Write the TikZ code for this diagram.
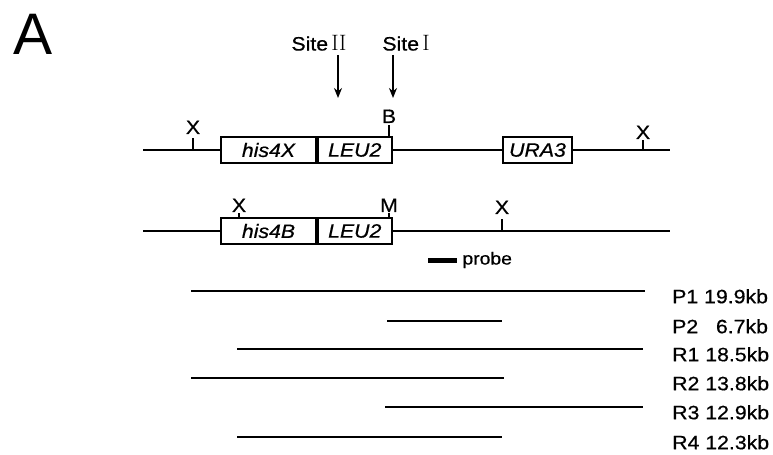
\documentclass[tikz,border=0pt]{standalone}
\usepackage{fontspec}
\newfontfamily\labfont[FakeStretch=1.1, FakeBold=0.6]{Liberation Sans}
\newfontfamily\panelfont{Liberation Sans}
\usetikzlibrary{positioning, arrows.meta, calc}

\begin{document}
\begin{tikzpicture}[
  gene/.style={draw, line width=1.5pt, minimum height=0.78cm, inner sep=0pt,
    font=\labfont\fontsize{16.5}{19}\selectfont\itshape},
  dna/.style={line width=1.5pt},
  lbl/.style={font=\labfont\fontsize{16.5}{19}\selectfont, inner sep=0pt},
  site/.style={line width=1.5pt, -{Stealth[length=3mm, width=2.4mm]}}
]
\useasboundingbox (0,0) rectangle (23.19,13.62);

% Panel letter
\node[font=\panelfont\fontsize{50}{60}\selectfont, inner sep=0pt] (panel) at (0.99,12.6) {A};

% Cleavage sites
\node[lbl] (site2) at (9.57,12.33) {Site\,{\rmfamily\fontsize{19}{21}\selectfont II}};
\node[lbl] (site1) at (12.18,12.33) {Site\,{\rmfamily\fontsize{19}{21}\selectfont I}};
\coordinate (s2top) at (10.14,11.97);
\coordinate (s2tip) at (10.14,10.68);
\coordinate (s1top) at (11.79,11.97);
\coordinate (s1tip) at (11.79,10.68);
\draw[site] (s2top) -- (s2tip);
\draw[site] (s1top) -- (s1tip);

% Upper construct
\node[gene, minimum width=2.85cm] (his4X) at (8.055,9.12) {his4X};
\node[gene, minimum width=2.22cm, right=0pt of his4X] (leuA) {LEU2};
\node[gene, minimum width=2.07cm] (ura3) at (16.125,9.12) {URA3};
\coordinate (l1start) at (4.29,9.12);
\coordinate (l1end) at (20.10,9.12);
\draw[dna] (l1start) -- (his4X.west);
\draw[dna] (leuA.east) -- (ura3.west);
\draw[dna] (ura3.east) -- (l1end);

% Lower construct
\node[gene, minimum width=2.85cm] (his4B) at (8.055,6.69) {his4B};
\node[gene, minimum width=2.22cm, right=0pt of his4B] (leuB) {LEU2};
\coordinate (l2start) at (4.29,6.69);
\coordinate (l2end) at (20.10,6.69);
\draw[dna] (l2start) -- (his4B.west);
\draw[dna] (leuB.east) -- (l2end);

% Restriction sites
\foreach \n/\x/\ya/\yb/\t/\yl in {xa/5.79/9.12/9.48/X/9.80, b/11.67/9.51/9.87/B/10.13,
    xb/19.29/9.12/9.42/X/9.65, xc/7.17/7.08/7.23/X/7.46, m/11.67/7.08/7.23/M/7.46,
    xd/15.06/6.69/7.05/X/7.40} {
  \draw[dna] (\x,\ya) -- (\x,\yb);
  \node[lbl] (\n) at (\x,\yl) {\t};
}

% Probe
\node[fill, minimum width=0.87cm, minimum height=0.15cm, inner sep=0pt] (probebar) at (13.275,5.82) {};
\node[lbl, font=\labfont\fontsize{15}{18}\selectfont, right=0.15cm of probebar] (probe) {probe};

% Restriction fragments
\foreach \n/\xa/\xb/\y/\t in {P1/5.73/19.35/4.89/{P1 19.9kb}, P2/11.61/15.06/3.99/{P2 \phantom{1}6.7kb},
    R1/7.11/19.29/3.15/{R1 18.5kb}, R2/5.73/15.12/2.28/{R2 13.8kb},
    R3/11.55/19.29/1.41/{R3 12.9kb}, R4/7.11/15.06/0.51/{R4 12.3kb}} {
  \coordinate (\n a) at (\xa,\y);
  \coordinate (\n b) at (\xb,\y);
  \draw[dna] (\n a) -- (\n b);
  \node[lbl, anchor=west] (\n lab) at (20.16,\y-0.16) {\t};
}
\end{tikzpicture}
\end{document}
